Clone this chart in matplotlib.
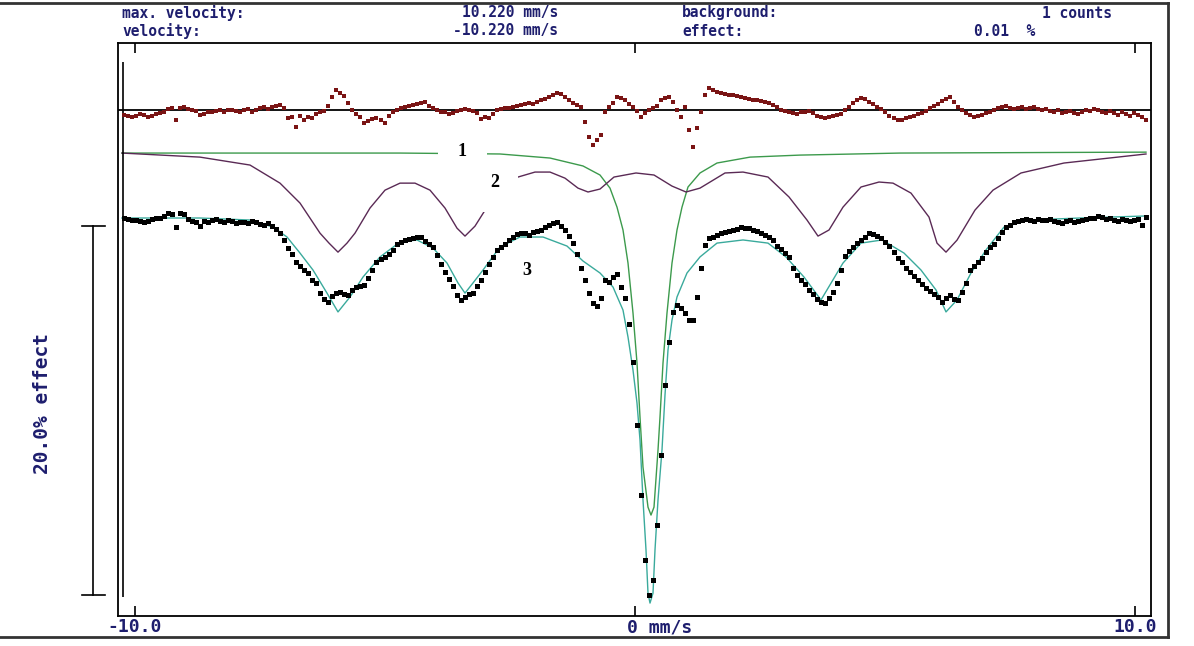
import numpy as np
import matplotlib.pyplot as plt
import matplotlib.transforms as mtransforms
from matplotlib.lines import Line2D
from matplotlib.patches import Rectangle

# 256 channels across +-10.22 mm/s, absorption in % (positive = more absorption)
velocity = np.linspace(-10.22, 10.22, 256)

spectrum = [
    0.00, 0.05, 0.11, 0.11, 0.16, 0.22, 0.16, 0.05, 0.00, 0.00, -0.11, -0.27, -0.22, 0.49, -0.27, -0.22,
    0.05, 0.16, 0.22, 0.43, 0.16, 0.22, 0.11, 0.05, 0.16, 0.22, 0.11, 0.16, 0.27, 0.22, 0.22, 0.27,
    0.16, 0.22, 0.33, 0.38, 0.27, 0.43, 0.60, 0.81, 1.19, 1.63, 1.95, 2.38, 2.60, 2.82, 2.98, 3.36,
    3.52, 4.07, 4.39, 4.55, 4.23, 4.07, 4.01, 4.12, 4.17, 3.90, 3.74, 3.69, 3.63, 3.25, 2.82, 2.38,
    2.22, 2.11, 1.95, 1.73, 1.41, 1.30, 1.19, 1.14, 1.08, 1.03, 1.03, 1.25, 1.41, 1.57, 2.01, 2.49,
    2.93, 3.31, 3.69, 4.17, 4.44, 4.28, 4.12, 4.07, 3.69, 3.36, 2.93, 2.49, 2.11, 1.73, 1.57, 1.41,
    1.19, 1.03, 0.87, 0.81, 0.81, 0.92, 0.76, 0.70, 0.65, 0.49, 0.38, 0.27, 0.22, 0.43, 0.65, 0.98,
    1.36, 1.95, 2.71, 3.36, 4.07, 4.61, 4.77, 4.34, 3.36, 3.47, 3.20, 3.04, 3.74, 4.34, 5.75, 7.80,
    11.22, 15.01, 18.54, 20.43, 19.62, 16.64, 12.85, 9.05, 6.72, 5.09, 4.72, 4.88, 5.15, 5.53, 5.53, 4.28,
    2.71, 1.46, 1.08, 1.03, 0.92, 0.81, 0.76, 0.70, 0.65, 0.60, 0.49, 0.54, 0.54, 0.65, 0.70, 0.81,
    0.92, 1.03, 1.19, 1.52, 1.68, 1.90, 2.11, 2.71, 3.09, 3.36, 3.58, 3.90, 4.12, 4.39, 4.55, 4.61,
    4.34, 4.01, 3.52, 2.82, 2.06, 1.79, 1.57, 1.36, 1.19, 1.03, 0.81, 0.87, 0.98, 1.08, 1.30, 1.52,
    1.84, 2.17, 2.38, 2.71, 2.93, 3.14, 3.36, 3.58, 3.79, 3.96, 4.12, 4.28, 4.55, 4.34, 4.17, 4.39,
    4.44, 4.01, 3.52, 2.82, 2.60, 2.38, 2.17, 1.84, 1.57, 1.41, 1.08, 0.76, 0.49, 0.38, 0.22, 0.16,
    0.11, 0.05, 0.11, 0.16, 0.05, 0.11, 0.11, 0.05, 0.16, 0.22, 0.27, 0.16, 0.11, 0.22, 0.16, 0.11,
    0.05, 0.00, 0.00, -0.11, -0.05, 0.05, 0.00, 0.11, 0.16, 0.05, 0.11, 0.16, 0.11, 0.05, 0.38, -0.05,
]

residual = [
    0.27, 0.33, 0.38, 0.33, 0.22, 0.27, 0.38, 0.33, 0.22, 0.16, 0.11, -0.05, -0.11, 0.54, -0.11, -0.16,
    -0.05, 0.00, 0.05, 0.27, 0.22, 0.11, 0.11, 0.05, 0.00, 0.11, 0.00, 0.00, 0.05, 0.11, 0.00, -0.05,
    0.11, 0.00, -0.11, -0.16, -0.05, -0.16, -0.22, -0.27, -0.11, 0.43, 0.38, 0.92, 0.33, 0.54, 0.38, 0.43,
    0.22, 0.11, 0.05, -0.22, -0.70, -1.08, -0.92, -0.76, -0.38, 0.00, 0.22, 0.38, 0.70, 0.60, 0.49, 0.43,
    0.54, 0.70, 0.33, 0.11, 0.00, -0.11, -0.16, -0.22, -0.27, -0.33, -0.38, -0.43, -0.22, -0.11, 0.00, 0.11,
    0.11, 0.22, 0.16, 0.05, 0.00, -0.05, 0.00, 0.05, 0.16, 0.49, 0.38, 0.43, 0.22, 0.00, -0.05, -0.11,
    -0.11, -0.16, -0.22, -0.27, -0.33, -0.38, -0.33, -0.43, -0.54, -0.60, -0.70, -0.81, -0.92, -0.87, -0.70, -0.54,
    -0.38, -0.27, -0.16, 0.65, 1.46, 1.90, 1.63, 1.36, 0.11, -0.16, -0.38, -0.70, -0.65, -0.54, -0.33, -0.16,
    0.05, 0.38, 0.16, 0.00, -0.11, -0.22, -0.54, -0.65, -0.70, -0.43, 0.00, 0.38, -0.16, 1.08, 2.01, 0.98,
    0.11, -0.81, -1.19, -1.08, -0.98, -0.92, -0.87, -0.81, -0.81, -0.76, -0.70, -0.65, -0.60, -0.54, -0.54, -0.49,
    -0.43, -0.38, -0.27, -0.16, 0.00, 0.05, 0.11, 0.16, 0.22, 0.11, 0.11, 0.05, 0.16, 0.33, 0.38, 0.43,
    0.38, 0.33, 0.27, 0.22, 0.00, -0.16, -0.38, -0.54, -0.65, -0.60, -0.43, -0.33, -0.16, -0.05, 0.11, 0.33,
    0.43, 0.54, 0.54, 0.43, 0.38, 0.33, 0.22, 0.16, 0.05, -0.11, -0.22, -0.33, -0.49, -0.60, -0.70, -0.43,
    -0.16, 0.00, 0.16, 0.27, 0.38, 0.33, 0.27, 0.16, 0.11, 0.00, -0.11, -0.16, -0.22, -0.11, -0.05, -0.11,
    -0.16, -0.05, -0.11, -0.16, -0.05, 0.00, -0.05, 0.05, 0.11, 0.00, 0.16, 0.11, 0.05, 0.16, 0.22, 0.11,
    0.00, 0.05, -0.05, 0.00, 0.11, 0.16, 0.05, 0.16, 0.27, 0.11, 0.22, 0.33, 0.16, 0.27, 0.38, 0.54,
]

# total fit (envelope)
fit_v = [-10.26, -8.70, -7.70, -7.24, -6.96, -6.70, -6.44, -6.16, -5.94, -5.70, -5.44, -5.10,
         -4.70, -4.36, -4.04, -3.76, -3.54, -3.40, -3.24, -3.04, -2.70, -2.30, -1.84, -1.36,
         -1.04, -0.70, -0.44, -0.24, -0.14, -0.04, 0.04, 0.10, 0.16, 0.22, 0.26, 0.30, 0.36,
         0.40, 0.46, 0.54, 0.60, 0.66, 0.74, 0.84, 1.04, 1.30, 1.64, 2.16, 2.66, 3.02, 3.38,
         3.72, 4.16, 4.52, 4.94, 5.38, 5.72, 6.02, 6.22, 6.44, 6.72, 7.02, 7.38, 7.88, 8.90, 10.22]
fit_total = [0.00, 0.00, 0.11, 0.49, 1.03, 1.90, 2.82, 4.07, 5.09, 4.28, 3.20, 2.11,
             1.30, 1.19, 1.63, 2.44, 3.52, 4.07, 3.52, 2.82, 1.57, 1.03, 1.03, 1.52,
             2.33, 2.98, 3.74, 4.99, 6.45, 8.24, 10.03, 12.03, 15.28, 17.99, 20.33, 20.87, 20.33,
             17.99, 15.28, 12.57, 9.59, 7.15, 5.53, 4.28, 2.98, 2.11, 1.36, 1.19, 1.36, 2.11, 3.20,
             4.44, 2.44, 1.36, 1.19, 1.90, 2.82, 3.90, 5.09, 4.44, 2.98, 1.73, 0.49, 0.11, 0.00, -0.11]

# subspectrum 1 (singlet)
sub1_v = [-10.26, -4.70, -2.70, -1.70, -1.04, -0.70, -0.50, -0.36, -0.24, -0.14, -0.04, 0.04,
          0.10, 0.16, 0.26, 0.32, 0.38, 0.46, 0.50, 0.56, 0.64, 0.74, 0.84, 0.94, 1.06, 1.30,
          1.64, 2.30, 3.30, 5.30, 10.22]
sub1 = [0.00, 0.00, 0.05, 0.27, 0.70, 1.19, 1.90, 2.93, 4.17, 5.96, 8.67, 11.38,
        14.31, 17.02, 19.19, 19.62, 19.19, 16.10, 14.31, 11.38, 8.67, 5.96, 4.17, 2.93, 1.84, 1.08,
        0.54, 0.22, 0.11, 0.00, -0.05]

# subspectrum 2 (sextet)
sub2_v = [-10.26, -8.70, -7.70, -7.10, -6.70, -6.30, -6.12, -5.94, -5.76, -5.60, -5.30, -5.00,
          -4.70, -4.40, -4.10, -3.80, -3.56, -3.40, -3.20, -2.96, -2.64, -2.34, -2.00, -1.70,
          -1.40, -1.14, -0.94, -0.70, -0.42, 0.02, 0.38, 0.74, 1.02, 1.30, 1.80, 2.16, 2.66,
          3.08, 3.44, 3.66, 3.88, 4.16, 4.52, 4.88, 5.16, 5.52, 5.88, 6.04, 6.22, 6.44, 6.80,
          7.16, 7.72, 8.58, 10.02, 10.22]
sub2 = [0.00, 0.22, 0.65, 1.63, 2.71, 4.34, 4.88, 5.37, 4.88, 4.34, 2.98, 2.01,
        1.63, 1.63, 2.01, 2.98, 4.07, 4.50, 3.96, 2.93, 1.84, 1.30, 1.03, 1.03,
        1.36, 1.90, 2.11, 1.95, 1.30, 1.08, 1.19, 1.79, 2.11, 1.90, 1.08, 1.03, 1.30,
        2.38, 3.63, 4.50, 4.17, 2.93, 1.84, 1.57, 1.63, 2.17, 3.47, 4.88, 5.37, 4.72, 3.09,
        2.01, 1.08, 0.54, 0.11, 0.05]

# header fields: text, x pixel, y pixel, alignment
header = [("max. velocity:", 122, 13, "left"), ("10.220 mm/s", 558, 13, "right"),
          ("velocity:", 122, 31, "left"), ("-10.220 mm/s", 558, 31, "right"),
          ("background:", 682, 13, "left"), ("1 counts", 1112, 13, "right"),
          ("effect:", 682, 31, "left"), ("0.01  %", 1035, 31, "right")]

navy = "#1e1e6e"
W, H = 1194, 646

fig = plt.figure(figsize=(W / 100, H / 100), dpi=100)
ax = fig.add_axes([118 / W, 30 / H, 1033 / W, 573 / H])

resid_base = -5.85
sub_base = -3.52

# residuals
ax.axhline(resid_base, color="black", lw=1.3, zorder=2)
ax.plot(velocity, resid_base + np.array(residual), "s", color="#7a1414",
        markersize=2.3, markeredgewidth=0, zorder=3)

# subspectra
ax.plot(sub1_v, sub_base + np.array(sub1), color="#3c9a4c", lw=1.0, zorder=2)
ax.plot(sub2_v, sub_base + np.array(sub2), color="#5a2a55", lw=1.0, zorder=2)

# spectrum + fit
ax.plot(fit_v, fit_total, color="#3aaa9c", lw=1.0, zorder=2)
ax.plot(velocity, spectrum, "s", color="black", markersize=3.6,
        markeredgewidth=0, zorder=3)

# inner marker line at the velocity limit
ax.vlines(-10.25, -8.46, 20.54, color="black", lw=1.2, zorder=2)

# white label boxes and labels
ax.add_patch(Rectangle((-3.94, -4.34), 0.98, 1.47, facecolor="white",
                       edgecolor="none", zorder=4))
ax.add_patch(Rectangle((-3.26, -3.04), 0.92, 2.7, facecolor="white",
                       edgecolor="none", zorder=4))
for txt, xv, yv in [("1", -3.46, -3.6), ("2", -2.8, -1.9), ("3", -2.16, 2.82)]:
    ax.text(xv, yv, txt, ha="center", va="center", fontsize=13,
            family="Liberation Serif", weight="bold", color="black", zorder=5)

ax.set_xlim(-10.34, 10.32)
ax.set_ylim(21.57, -9.485)
ax.set_xticks([-10, 0, 10])
ax.set_yticks([])
ax.tick_params(axis="x", direction="in", top=True, bottom=True, length=7,
               width=1.2, labelbottom=False)
for s in ax.spines.values():
    s.set_linewidth(1.3)

# 20% effect scale bar
trans = mtransforms.blended_transform_factory(ax.transAxes, ax.transData)
ax.plot([-0.0242, -0.0242], [0.43, 20.43], color="black", lw=1.2,
        transform=trans, clip_on=False)
for yb in (0.43, 20.43):
    ax.plot([-0.0349, -0.0126], [yb, yb], color="black", lw=1.2,
            transform=trans, clip_on=False)

# header and axis texts
for txt, xp, yp, al in header:
    fig.text(xp / W, 1 - yp / H, txt, ha=al, va="center", fontsize=10.5,
             family="DejaVu Sans Mono", weight="bold", color=navy)
for txt, xp, al in [("-10.0", 135, "center"), ("0 mm/s", 627, "left"),
                    ("10.0", 1135, "center")]:
    fig.text(xp / W, 1 - 627 / H, txt, ha=al, va="center", fontsize=13,
             family="DejaVu Sans Mono", weight="bold", color=navy)
fig.text(43 / W, 1 - 403 / H, "20.0% effect", ha="center", va="center",
         rotation=90, fontsize=14, family="DejaVu Sans Mono", weight="bold",
         color=navy)

# outer frame
xr, yt, yb = 1168 / W, 1 - 3 / H, 1 - 637 / H
for xs, ys in [([0, xr], [yt, yt]), ([xr, xr], [yb, yt]), ([0, xr], [yb, yb])]:
    fig.add_artist(Line2D(xs, ys, color="#333333", lw=2.0))

fig.savefig("out.png", dpi=100)
